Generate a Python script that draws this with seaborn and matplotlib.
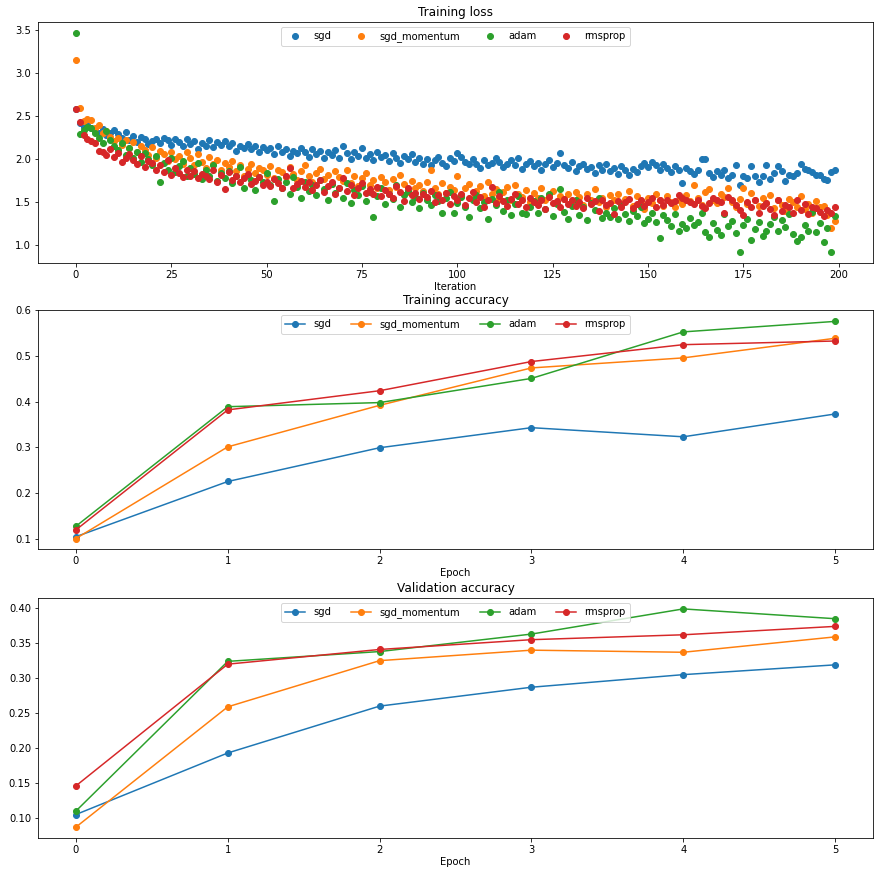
import matplotlib
matplotlib.use("Agg")
import matplotlib.pyplot as plt
import seaborn as sns
import numpy as np

methods = ["sgd", "sgd_momentum", "adam", "rmsprop"]
colors = sns.color_palette("tab10", 4)

loss_sgd = [
    2.58, 2.42, 2.38, 2.40, 2.36, 2.33, 2.30, 2.35, 2.28, 2.31,
    2.34, 2.29, 2.25, 2.32, 2.22, 2.27, 2.20, 2.26, 2.23, 2.18,
    2.21, 2.24, 2.19, 2.25, 2.22, 2.17, 2.23, 2.20, 2.15, 2.24,
    2.18, 2.21, 2.12, 2.19, 2.16, 2.22, 2.14, 2.20, 2.17, 2.21,
    2.15, 2.19, 2.10, 2.16, 2.13, 2.18, 2.12, 2.15, 2.09, 2.14,
    2.11, 2.13, 2.06, 2.16, 2.08, 2.12, 2.04, 2.10, 2.07, 2.13,
    2.09, 2.03, 2.12, 2.06, 2.10, 2.01, 2.08, 2.05, 2.11, 2.02,
    2.15, 2.07, 2.00, 2.09, 2.04, 2.13, 2.02, 2.06, 1.99, 2.08,
    2.03, 2.05, 1.98, 2.07, 2.01, 1.96, 2.04, 2.00, 2.06, 1.97,
    2.02, 1.95, 2.00, 1.93, 1.99, 2.03, 1.96, 1.92, 2.01, 1.98,
    2.07, 2.03, 1.97, 1.94, 2.00, 1.95, 1.90, 1.99, 1.93, 1.96,
    2.02, 1.97, 1.91, 1.95, 1.99, 1.93, 2.01, 1.89, 1.94, 1.98,
    1.92, 1.96, 1.88, 1.94, 1.99, 1.91, 1.96, 2.07, 1.93, 1.90,
    1.97, 1.86, 1.92, 1.95, 1.89, 1.91, 1.84, 1.93, 1.88, 1.95,
    1.86, 1.90, 1.83, 1.92, 1.87, 1.82, 1.89, 1.85, 1.92, 1.96,
    1.91, 1.97, 1.93, 1.88, 1.94, 1.90, 1.85, 1.92, 1.88, 1.72,
    1.90, 1.86, 1.83, 1.88, 2.00, 2.00, 1.84, 1.79, 1.86, 1.82,
    1.88, 1.78, 1.82, 1.93, 1.70, 1.80, 1.78, 1.92, 1.81, 1.74,
    1.80, 1.93, 1.77, 1.84, 1.92, 1.86, 1.75, 1.82, 1.80, 1.84,
    1.95, 1.89, 1.87, 1.85, 1.82, 1.82, 1.77, 1.76, 1.85, 1.87,
]
loss_sgd_momentum = [
    3.15, 2.60, 2.45, 2.47, 2.46, 2.36, 2.40, 2.31, 2.33, 2.26,
    2.21, 2.25, 2.17, 2.22, 2.13, 2.20, 2.08, 2.15, 2.11, 2.05,
    2.14, 2.02, 2.10, 2.06, 1.98, 2.08, 2.00, 2.04, 1.95, 2.09,
    2.01, 1.93, 2.06, 1.97, 1.90, 2.03, 1.94, 1.99, 1.88, 1.96,
    1.91, 1.98, 1.86, 1.93, 1.81, 1.89, 1.95, 1.84, 1.90, 1.87,
    1.82, 1.92, 1.78, 1.88, 1.85, 1.79, 1.91, 1.83, 1.76, 1.86,
    1.93, 1.80, 1.74, 1.84, 1.89, 1.77, 1.82, 1.71, 1.86, 1.79,
    1.75, 1.88, 1.72, 1.81, 1.69, 1.78, 1.84, 1.70, 1.76, 1.66,
    1.79, 1.73, 1.64, 1.77, 1.68, 1.82, 1.71, 1.62, 1.75, 1.67,
    1.70, 1.63, 1.74, 1.87, 1.66, 1.59, 1.72, 1.61, 1.68, 1.64,
    1.80, 1.58, 1.66, 1.71, 1.55, 1.63, 1.69, 1.57, 1.74, 1.60,
    1.65, 1.54, 1.62, 1.68, 1.52, 1.70, 1.59, 1.56, 1.64, 1.50,
    1.61, 1.55, 1.66, 1.52, 1.58, 1.63, 1.49, 1.57, 1.54, 1.60,
    1.51, 1.62, 1.56, 1.47, 1.59, 1.53, 1.65, 1.50, 1.55, 1.45,
    1.58, 1.52, 1.60, 1.48, 1.54, 1.63, 1.46, 1.57, 1.51, 1.42,
    1.55, 1.49, 1.60, 1.52, 1.46, 1.57, 1.50, 1.44, 1.53, 1.48,
    1.58, 1.51, 1.70, 1.55, 1.47, 1.62, 1.65, 1.53, 1.49, 1.60,
    1.56, 1.67, 1.50, 1.44, 1.54, 1.66, 1.48, 1.61, 1.52, 1.46,
    1.55, 1.49, 1.58, 1.43, 1.52, 1.47, 1.40, 1.54, 1.50, 1.45,
    1.57, 1.42, 1.48, 1.38, 1.51, 1.44, 1.46, 1.35, 1.20, 1.28,
]
loss_adam = [
    3.47, 2.29, 2.34, 2.38, 2.36, 2.31, 2.25, 2.19, 2.33, 2.22,
    2.15, 2.11, 2.19, 2.05, 2.13, 2.02, 2.09, 1.97, 2.07, 2.00,
    1.93, 2.04, 1.74, 1.96, 1.88, 2.01, 1.85, 1.92, 1.98, 1.80,
    1.90, 1.83, 1.96, 1.77, 1.87, 1.81, 1.93, 1.75, 1.84, 1.78,
    1.86, 1.72, 1.80, 1.91, 1.67, 1.82, 1.76, 1.64, 1.79, 1.73,
    1.84, 1.70, 1.51, 1.77, 1.66, 1.73, 1.60, 1.79, 1.68, 1.55,
    1.74, 1.63, 1.70, 1.58, 1.76, 1.65, 1.53, 1.71, 1.61, 1.67,
    1.55, 1.72, 1.49, 1.64, 1.58, 1.69, 1.51, 1.62, 1.33, 1.57,
    1.66, 1.48, 1.60, 1.54, 1.70, 1.45, 1.58, 1.63, 1.50, 1.56,
    1.43, 1.61, 1.53, 1.47, 1.58, 1.51, 1.38, 1.55, 1.62, 1.37,
    1.49, 1.56, 1.45, 1.33, 1.52, 1.58, 1.43, 1.50, 1.31, 1.54,
    1.47, 1.62, 1.40, 1.53, 1.35, 1.48, 1.57, 1.38, 1.36, 1.45,
    1.51, 1.37, 1.55, 1.42, 1.60, 1.34, 1.48, 1.65, 1.39, 1.30,
    1.46, 1.52, 1.35, 1.44, 1.29, 1.49, 1.41, 1.55, 1.32, 1.38,
    1.33, 1.43, 1.30, 1.47, 1.36, 1.28, 1.40, 1.34, 1.45, 1.26,
    1.31, 1.38, 1.27, 1.08, 1.35, 1.29, 1.22, 1.36, 1.17, 1.25,
    1.20, 1.32, 1.24, 1.27, 1.38, 1.15, 1.10, 1.26, 1.18, 1.12,
    1.36, 1.22, 1.28, 1.14, 0.92, 1.24, 1.31, 1.06, 1.19, 1.27,
    1.11, 1.16, 1.25, 1.33, 1.16, 1.29, 1.21, 1.36, 1.13, 1.05,
    1.09, 1.24, 1.17, 1.39, 1.15, 1.26, 1.04, 1.20, 0.92, 1.34,
]
loss_rmsprop = [
    2.58, 2.43, 2.28, 2.24, 2.21, 2.19, 2.10, 2.08, 2.05, 2.12,
    2.03, 2.07, 1.97, 2.02, 2.06, 1.99, 1.94, 2.04, 1.91, 1.98,
    1.96, 1.88, 1.93, 1.85, 1.99, 1.82, 1.90, 1.84, 1.79, 1.87,
    1.81, 1.86, 1.78, 1.83, 1.80, 1.77, 1.88, 1.74, 1.82, 1.65,
    1.85, 1.76, 1.80, 1.73, 1.78, 1.83, 1.71, 1.75, 1.79, 1.70,
    1.74, 1.69, 1.77, 1.72, 1.67, 1.81, 1.90, 1.66, 1.71, 1.75,
    1.68, 1.73, 1.64, 1.70, 1.76, 1.62, 1.69, 1.74, 1.60, 1.67,
    1.78, 1.63, 1.70, 1.58, 1.66, 1.72, 1.61, 1.65, 1.59, 1.68,
    1.57, 1.64, 1.60, 1.55, 1.69, 1.62, 1.51, 1.66, 1.58, 1.61,
    1.54, 1.60, 1.56, 1.63, 1.50, 1.58, 1.53, 1.61, 1.48, 1.57,
    1.52, 1.59, 1.47, 1.55, 1.62, 1.50, 1.56, 1.45, 1.53, 1.68,
    1.49, 1.57, 1.51, 1.46, 1.54, 1.60, 1.48, 1.52, 1.44, 1.55,
    1.50, 1.47, 1.53, 1.42, 1.56, 1.49, 1.51, 1.45, 1.54, 1.48,
    1.52, 1.46, 1.50, 1.43, 1.55, 1.48, 1.51, 1.40, 1.53, 1.47,
    1.49, 1.36, 1.51, 1.45, 1.50, 1.54, 1.43, 1.48, 1.52, 1.46,
    1.50, 1.55, 1.44, 1.52, 1.47, 1.53, 1.49, 1.51, 1.58, 1.55,
    1.53, 1.50, 1.48, 1.52, 1.46, 1.43, 1.49, 1.55, 1.53, 1.50,
    1.38, 1.56, 1.52, 1.47, 1.41, 1.35, 1.50, 1.44, 1.53, 1.38,
    1.46, 1.49, 1.42, 1.35, 1.53, 1.40, 1.47, 1.44, 1.37, 1.52,
    1.41, 1.48, 1.36, 1.45, 1.43, 1.39, 1.34, 1.41, 1.38, 1.45,
]

epochs = [0, 1, 2, 3, 4, 5]
train_sgd = [0.104, 0.225, 0.299, 0.343, 0.323, 0.373]
train_sgd_momentum = [0.100, 0.301, 0.392, 0.474, 0.496, 0.539]
train_adam = [0.127, 0.389, 0.398, 0.451, 0.553, 0.576]
train_rmsprop = [0.119, 0.382, 0.424, 0.488, 0.525, 0.533]

val_sgd = [0.105, 0.193, 0.260, 0.287, 0.305, 0.319]
val_sgd_momentum = [0.087, 0.259, 0.325, 0.340, 0.337, 0.359]
val_adam = [0.110, 0.324, 0.338, 0.363, 0.399, 0.385]
val_rmsprop = [0.146, 0.320, 0.341, 0.355, 0.362, 0.374]

losses = [loss_sgd, loss_sgd_momentum, loss_adam, loss_rmsprop]
trains = [train_sgd, train_sgd_momentum, train_adam, train_rmsprop]
vals = [val_sgd, val_sgd_momentum, val_adam, val_rmsprop]

W, H = 884, 876
DPI = 72
fig = plt.figure(figsize=(W / DPI, H / DPI), dpi=DPI)

def px_axes(left, top, right, bottom):
    return fig.add_axes([left / W, 1 - bottom / H, (right - left) / W, (bottom - top) / H])

ax1 = px_axes(38, 22, 873, 263)
ax2 = px_axes(38, 310, 873, 549)
ax3 = px_axes(38, 598, 873, 838)

for name, c, ys in zip(methods, colors, losses):
    sns.scatterplot(x=np.arange(len(ys)), y=ys, color=c, s=36, linewidth=1,
                    edgecolor=c, label=name, ax=ax1)
ax1.set_title("Training loss")
ax1.set_xlabel("Iteration", labelpad=2)
ax1.legend(loc="upper center", ncol=4)

for ax, data, title in [(ax2, trains, "Training accuracy"),
                        (ax3, vals, "Validation accuracy")]:
    for name, c, ys in zip(methods, colors, data):
        sns.lineplot(x=epochs, y=ys, color=c, marker="o", markersize=6,
                     markeredgecolor=c, markeredgewidth=1, linewidth=1.5,
                     label=name, ax=ax)
    ax.set_title(title)
    ax.set_xlabel("Epoch", labelpad=2)
    ax.legend(loc="upper center", ncol=4)

ax2.set_ylim(0.077, 0.601)

ax1.set_ylabel("")
ax2.set_ylabel("")
ax3.set_ylabel("")

fig.savefig("out.png", dpi=DPI)
